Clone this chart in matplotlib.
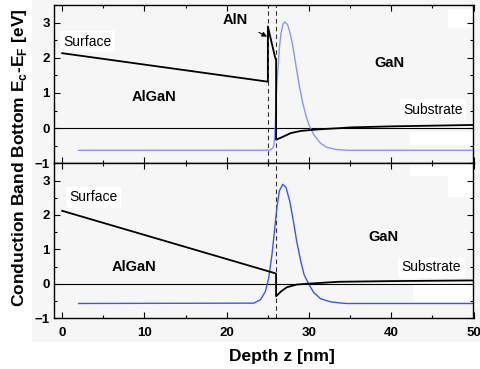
import numpy as np
import matplotlib
matplotlib.use('Agg')
import matplotlib.pyplot as plt
from matplotlib.patches import Rectangle
from matplotlib.ticker import MultipleLocator

plt.rcParams['font.family'] = ['Liberation Sans', 'DejaVu Sans']

# top panel: AlGaN / AlN / GaN
top_band_x = [0, 25.0, 25.0, 25.9, 26.0, 26.0, 26.6, 27.8, 29.0, 30.4, 32.2, 33.8, 35, 40, 45, 50]
top_band_y = [2.13, 1.32, 2.89, 1.99, 1.95, -0.33, -0.27, -0.14, -0.08, -0.05, -0.02, 0.0, 0.02, 0.05, 0.07, 0.09]
top_wave_x = [2, 24.7, 25.3, 25.6, 25.75, 25.9, 26.0, 26.2, 26.4, 26.6, 26.85, 27.05, 27.4, 27.7, 28.0,
              28.4, 28.8, 29.2, 29.6, 30.0, 30.6, 31.4, 32.2, 33.4, 34.8, 50]
top_wave_y = [-0.63, -0.63, -0.62, -0.57, -0.48, 0.09, 0.85, 1.61, 2.28, 2.70, 2.96, 3.02, 2.94, 2.70, 2.37,
              1.80, 1.23, 0.76, 0.38, 0.09, -0.19, -0.43, -0.55, -0.61, -0.63, -0.63]
top_interfaces = [25, 26]

# bottom panel: AlGaN / GaN
bot_band_x = [0, 26.0, 26.0, 26.6, 27.3, 28.5, 30.2, 33.6, 40, 45, 50]
bot_band_y = [2.12, 0.30, -0.36, -0.22, -0.10, -0.02, 0.01, 0.06, 0.08, 0.09, 0.10]
bot_wave_x = [2, 23.3, 24.1, 24.7, 25.1, 25.5, 25.8, 26.1, 26.4, 26.8, 27.2, 27.65, 28.1, 28.5, 29.0,
              29.4, 30.0, 30.6, 31.4, 32.6, 33.6, 34.5, 50]
bot_wave_y = [-0.57, -0.56, -0.46, -0.22, 0.17, 0.85, 1.53, 2.22, 2.70, 2.89, 2.80, 2.41, 1.83, 1.24, 0.66,
              0.27, -0.02, -0.26, -0.43, -0.52, -0.55, -0.57, -0.57]
bot_interfaces = [26]

bg = '#f6f6f6'
fig = plt.figure(figsize=(4.81, 3.69), dpi=100)
fig.patches.append(Rectangle((32 / 481, 1 - 342 / 369), 449 / 481, 342 / 369,
                             transform=fig.transFigure, facecolor=bg, edgecolor='none', zorder=-10))

left, right = 54 / 481, 473.5 / 481
ytop, ymid, ybot = 1 - 5 / 369, 1 - 163.3 / 369, 1 - 318.3 / 369
ax1 = fig.add_axes([left, ymid, right - left, ytop - ymid])
ax2 = fig.add_axes([left, ybot, right - left, ymid - ybot])

panels = [
    (ax1, top_band_x, top_band_y, top_wave_x, top_wave_y, top_interfaces, '#8a94ff'),
    (ax2, bot_band_x, bot_band_y, bot_wave_x, bot_wave_y, bot_interfaces, '#3a55ff'),
]
for ax, bx, by, wx, wy, ifs, wcol in panels:
    ax.set_facecolor(bg)
    ax.axhline(0, color='black', lw=0.8, zorder=1)
    for xi in ifs:
        ax.axvline(xi, color='#333333', lw=0.8, ls=(0, (4, 3)), zorder=1)
    ax.plot(wx, wy, color=wcol, lw=1.0, zorder=2)
    ax.plot(bx, by, color='black', lw=1.3, zorder=3)
    ax.set_xlim(-1, 50)
    ax.set_ylim(-1, 3.5)
    ax.xaxis.set_major_locator(MultipleLocator(10))
    ax.xaxis.set_minor_locator(MultipleLocator(5))
    ax.yaxis.set_major_locator(MultipleLocator(1))
    ax.yaxis.set_minor_locator(MultipleLocator(0.5))
    ax.tick_params(which='both', direction='in', top=True, right=True, width=0.8)
    ax.tick_params(which='major', length=4, labelsize=9.5, pad=3)
    ax.tick_params(which='minor', length=2.5)
    ax.tick_params(axis='x', which='major', pad=6)
    for sp in ax.spines.values():
        sp.set_linewidth(1.0)

ax1.set_yticks([-1, 0, 1, 2, 3])
ax1.tick_params(axis='x', labelbottom=False)
ax2.set_yticks([-1, 0, 1, 2, 3])
for lab in ax1.get_yticklabels() + ax2.get_yticklabels() + ax2.get_xticklabels():
    lab.set_fontweight('bold')

# white patches left in the original figure
for ax, (x0, y0, w, h) in [(ax1, (0.939, 0.855, 0.07, 0.12)), (ax1, (0.849, 0.116, 0.16, 0.082)),
                          (ax2, (0.849, 0.918, 0.16, 0.09)), (ax2, (0.939, 0.783, 0.07, 0.2)),
                          (ax2, (0.856, 0.105, 0.15, 0.11))]:
    ax.add_patch(Rectangle((x0, y0), w, h, transform=ax.transAxes, facecolor='white',
                           edgecolor='none', zorder=1.5, clip_on=True))

box = dict(facecolor='white', edgecolor='none', pad=2.5)
ax1.text(3.05, 2.46, 'Surface', fontsize=10, ha='center', va='center', bbox=box, zorder=4)
ax1.text(11.2, 0.89, 'AlGaN', fontsize=10.5, fontweight='bold', ha='center', va='center')
ax1.text(39.8, 1.86, 'GaN', fontsize=10.5, fontweight='bold', ha='center', va='center')
ax1.text(45.1, 0.52, 'Substrate', fontsize=10, ha='center', va='center', bbox=box, zorder=4)
ax1.annotate('AlN', xy=(24.9, 2.6), xytext=(21.0, 3.08), fontsize=10.5, fontweight='bold',
             ha='center', va='center',
             arrowprops=dict(arrowstyle='-|>', color='black', lw=0.8, mutation_scale=7,
                             shrinkA=7, shrinkB=0))

ax2.text(3.8, 2.51, 'Surface', fontsize=10, ha='center', va='center', bbox=box, zorder=4)
ax2.text(8.7, 0.48, 'AlGaN', fontsize=10.5, fontweight='bold', ha='center', va='center')
ax2.text(39.1, 1.35, 'GaN', fontsize=10.5, fontweight='bold', ha='center', va='center')
ax2.text(44.9, 0.48, 'Substrate', fontsize=10, ha='center', va='center', bbox=box, zorder=4)

ax2.set_xlabel('Depth z [nm]', fontsize=12.5, fontweight='bold')
ax2.xaxis.set_label_coords(0.543, -0.195)
fig.text(0.04, ymid + 0.015, r'Conduction Band Bottom E$_\mathregular{c}$-E$_\mathregular{F}$ [eV]',
         rotation=90, fontsize=12.5, fontweight='bold', ha='center', va='center')

fig.savefig('out.png', dpi=100)
